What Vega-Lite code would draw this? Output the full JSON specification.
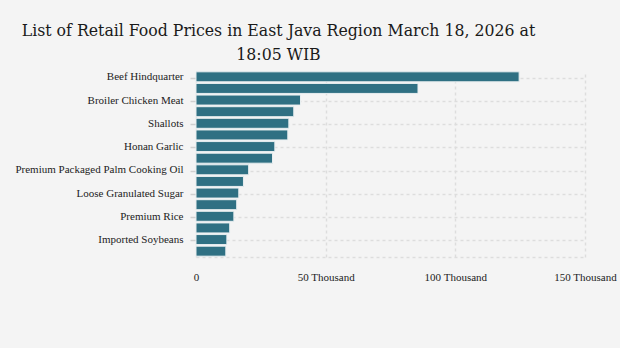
{
  "$schema": "https://vega.github.io/schema/vega-lite/v6.json",
  "width": 389,
  "height": 186,
  "autosize": "none",
  "padding": {"left": 196, "top": 71, "right": 35, "bottom": 91},
  "background": "#f4f4f4",
  "title": {
    "text": ["List of Retail Food Prices in East Java Region March 18, 2026 at", "18:05 WIB"],
    "anchor": "middle",
    "frame": "group",
    "dx": -112,
    "offset": 7,
    "font": "DejaVu Serif Condensed, DejaVu Serif",
    "fontSize": 17.5,
    "fontWeight": "normal",
    "color": "#1a1a1a",
    "lineHeight": 24
  },
  "config": {
    "view": {"stroke": null},
    "axis": {"labelFont": "Liberation Serif", "labelFontSize": 11, "labelColor": "#222222"}
  },
  "data": {
    "values": [
      {"item": "Beef Hindquarter", "price": 124600},
      {"item": "Red Cayenne Pepper", "price": 85600},
      {"item": "Broiler Chicken Meat", "price": 40300},
      {"item": "Curly Red Chili", "price": 37700},
      {"item": "Shallots", "price": 35800},
      {"item": "Big Red Chili", "price": 35400},
      {"item": "Honan Garlic", "price": 30400},
      {"item": "Purebred Chicken Eggs", "price": 29500},
      {"item": "Premium Packaged Palm Cooking Oil", "price": 20300},
      {"item": "Bulk Palm Cooking Oil", "price": 18300},
      {"item": "Loose Granulated Sugar", "price": 16500},
      {"item": "Packaged Granulated Sugar", "price": 15700},
      {"item": "Premium Rice", "price": 14600},
      {"item": "Medium Rice", "price": 13000},
      {"item": "Imported Soybeans", "price": 11900},
      {"item": "Wheat Flour", "price": 11500}
    ]
  },
  "mark": {"type": "bar", "color": "#2f7083", "stroke": "#e8eef0", "strokeWidth": 1},
  "encoding": {
    "y": {
      "field": "item",
      "type": "nominal",
      "sort": null,
      "title": null,
      "scale": {"paddingInner": 0.14, "paddingOuter": 0.07},
      "axis": {
        "values": ["Beef Hindquarter", "Broiler Chicken Meat", "Shallots", "Honan Garlic", "Premium Packaged Palm Cooking Oil", "Loose Granulated Sugar", "Premium Rice", "Imported Soybeans"],
        "bandPosition": 0,
        "labelOffset": -5.8,
        "tickOffset": 5.8,
        "grid": true,
        "gridColor": "#dddddd",
        "gridDash": [3, 3],
        "gridWidth": 1.5,
        "domain": false,
        "ticks": true,
        "tickSize": 6,
        "tickColor": "#d0d0d0",
        "tickWidth": 1.5,
        "labelPadding": 7
      }
    },
    "x": {
      "field": "price",
      "type": "quantitative",
      "title": null,
      "scale": {"domain": [0, 150000], "nice": false},
      "axis": {
        "values": [0, 50000, 100000, 150000],
        "labelExpr": "datum.value == 0 ? '0' : (datum.value / 1000) + ' Thousand'",
        "grid": true,
        "gridColor": "#dddddd",
        "gridDash": [3, 3],
        "gridWidth": 1.5,
        "ticks": false,
        "domain": true,
        "domainColor": "#dddddd",
        "domainDash": [3, 3],
        "domainWidth": 1.5,
        "labelPadding": 14,
        "labelFlush": false
      }
    }
  }
}
